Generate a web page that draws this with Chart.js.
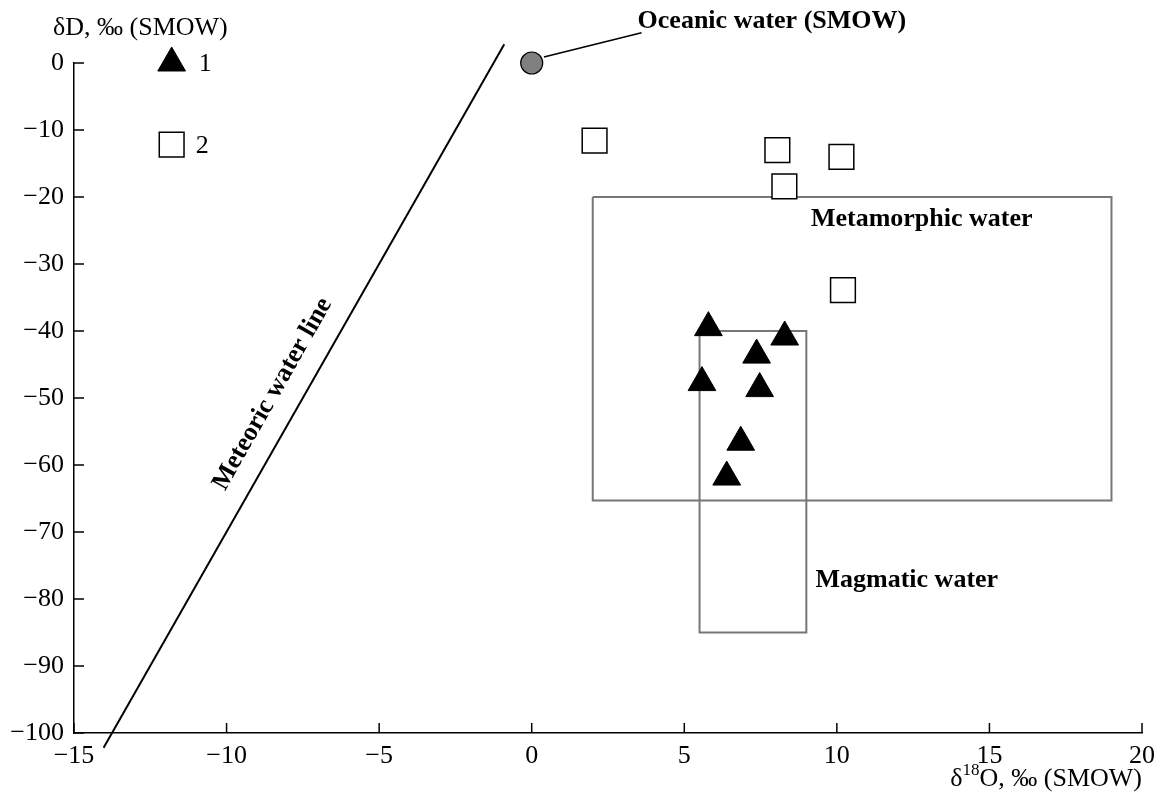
<!DOCTYPE html>
<html><head><meta charset="utf-8">
<script src="https://cdn.jsdelivr.net/npm/chart.js@4/dist/chart.umd.min.js"></script>
<style>html,body{margin:0;padding:0;background:#fff;}#wrap{width:1161px;height:792px;}</style>
</head><body><div id="wrap"><canvas id="c" width="1161" height="792"></canvas></div>
<script>
// ---- data ----
const xTickValues = [-15, -10, -5, 0, 5, 10, 15, 20];
const yTickValues = [-100, -90, -80, -70, -60, -50, -40, -30, -20, -10, 0];
const triX = [5.79, 8.29, 7.37, 5.58, 7.47, 6.85, 6.39];
const triY = [-39.5, -40.9, -43.6, -47.7, -48.6, -56.6, -61.8];
const sqX = [2.06, 8.05, 8.28, 10.15, 10.2];
const sqY = [-11.6, -13.0, -18.4, -14.0, -33.9];
const oceanX = [0];
const oceanY = [0];
const meteoricX = [-14.03, -0.9];
const meteoricY = [-102.2, 2.8];
const metaX = [2, 19, 19, 2, 2];
const metaY = [-20, -20, -65.3, -65.3, -20];
const magX = [5.5, 9, 9, 5.5, 5.5];
const magY = [-40, -40, -85, -85, -40];
const leaderX = [0.4, 3.6];
const leaderY = [0.9, 4.5];
const legendX = [-11.8];
const legendTriY = [0];
const legendSqY = [-12.2];
const legendTexts = ['1', '2'];
const yTitle = 'δD, ‰ (SMOW)';
const xTitleParts = ['δ', '18', 'O, ‰ (SMOW)'];
const labelTexts = ['Oceanic water (SMOW)', 'Metamorphic water', 'Magmatic water', 'Meteoric water line'];
const labelX = [3.47, 9.15, 9.3, -8.49];
const labelY = [5.22, -24.4, -78.2, -49.4];

const pts = (xs, ys) => xs.map((x, i) => ({x, y: ys[i]}));
const SERIF = '"Liberation Serif","Times New Roman",serif';
const minus = v => String(v).replace('-', '\u2212');

const overlay = {
  id: 'overlay',
  afterDraw(chart) {
    const ctx = chart.ctx, xs = chart.scales.x, ys = chart.scales.y;
    const a = chart.chartArea;
    ctx.save();
    ctx.strokeStyle = '#000'; ctx.lineWidth = 1.5;
    // inward ticks
    yTickValues.forEach(v => { const p = ys.getPixelForValue(v); ctx.beginPath(); ctx.moveTo(a.left, p); ctx.lineTo(a.left + 10, p); ctx.stroke(); });
    xTickValues.forEach(v => { const p = xs.getPixelForValue(v); ctx.beginPath(); ctx.moveTo(p, a.bottom); ctx.lineTo(p, a.bottom - 10); ctx.stroke(); });
    ctx.fillStyle = '#000';
    // y title
    ctx.font = '26px ' + SERIF; ctx.textAlign = 'left'; ctx.textBaseline = 'alphabetic';
    ctx.fillText(yTitle, 53, 35);
    // x title with superscript
    const big = '26px ' + SERIF, small = '17px ' + SERIF;
    ctx.font = big; const w0 = ctx.measureText(xTitleParts[0]).width, w2 = ctx.measureText(xTitleParts[2]).width;
    ctx.font = small; const w1 = ctx.measureText(xTitleParts[1]).width;
    let x0 = a.right - (w0 + w1 + w2), base = 786;
    ctx.font = big; ctx.fillText(xTitleParts[0], x0, base);
    ctx.font = small; ctx.fillText(xTitleParts[1], x0 + w0, base - 11);
    ctx.font = big; ctx.fillText(xTitleParts[2], x0 + w0 + w1, base);
    // legend texts
    ctx.font = '26px ' + SERIF; ctx.textBaseline = 'middle';
    ctx.fillText(legendTexts[0], xs.getPixelForValue(legendX[0]) + 27, ys.getPixelForValue(legendTriY[0]) + 1);
    ctx.fillText(legendTexts[1], xs.getPixelForValue(legendX[0]) + 24, ys.getPixelForValue(legendSqY[0]) + 1);
    // bold labels
    ctx.font = 'bold 26px ' + SERIF; ctx.textBaseline = 'alphabetic';
    for (let i = 0; i < 3; i++) {
      ctx.fillText(labelTexts[i], xs.getPixelForValue(labelX[i]), ys.getPixelForValue(labelY[i]));
    }
    // rotated meteoric label
    const px1 = xs.getPixelForValue(meteoricX[0]), py1 = ys.getPixelForValue(meteoricY[0]);
    const px2 = xs.getPixelForValue(meteoricX[1]), py2 = ys.getPixelForValue(meteoricY[1]);
    const ang = Math.atan2(py2 - py1, px2 - px1);
    ctx.translate(xs.getPixelForValue(labelX[3]), ys.getPixelForValue(labelY[3]));
    ctx.rotate(ang); ctx.textAlign = 'center'; ctx.textBaseline = 'middle';
    ctx.fillText(labelTexts[3], 0, 0);
    ctx.restore();
  }
};

new Chart(document.getElementById('c'), {
  type: 'scatter',
  data: {
    datasets: [
      {data: pts(legendX, legendTriY), pointStyle: 'triangle', pointRadius: 16, backgroundColor: '#000', borderColor: '#000', borderWidth: 1, clip: false},
      {data: pts(legendX, legendSqY), pointStyle: 'rect', pointRadius: 17.5, backgroundColor: '#fff', borderColor: '#000', borderWidth: 1.5, clip: false},
      {data: pts(triX, triY), pointStyle: 'triangle', pointRadius: 16, backgroundColor: '#000', borderColor: '#000', borderWidth: 1},
      {data: pts(sqX, sqY), pointStyle: 'rect', pointRadius: 17.5, backgroundColor: '#fff', borderColor: '#000', borderWidth: 1.5},
      {data: pts(oceanX, oceanY), pointStyle: 'circle', pointRadius: 11, backgroundColor: '#808080', borderColor: '#000', borderWidth: 1.2, clip: false},
      {data: pts(leaderX, leaderY), showLine: true, pointRadius: 0, borderColor: '#000', borderWidth: 1.5, clip: false},
      {data: pts(meteoricX, meteoricY), showLine: true, pointRadius: 0, borderColor: '#000', borderWidth: 2, clip: false},
      {data: pts(metaX, metaY), showLine: true, pointRadius: 0, borderColor: '#777', borderWidth: 2},
      {data: pts(magX, magY), showLine: true, pointRadius: 0, borderColor: '#777', borderWidth: 2}
    ]
  },
  options: {
    responsive: false, animation: false, events: [], devicePixelRatio: 1,
    layout: {padding: {left: 0, top: 63, right: 18, bottom: 0}},
    plugins: {legend: {display: false}, tooltip: {enabled: false}},
    scales: {
      x: {type: 'linear', min: -15, max: 20,
        afterFit: s => { s.height = 59; s.paddingLeft = 0; s.paddingRight = 0; },
        afterBuildTicks: s => { s.ticks = xTickValues.map(v => ({value: v})); },
        ticks: {color: '#000', padding: 8, font: {family: SERIF, size: 26}, callback: v => minus(v), maxRotation: 0},
        grid: {display: false, drawTicks: false},
        border: {display: true, color: '#000', width: 1.5}},
      y: {type: 'linear', min: -100, max: 0,
        afterFit: s => { s.width = 74; s.paddingTop = 0; s.paddingBottom = 0; },
        afterBuildTicks: s => { s.ticks = yTickValues.map(v => ({value: v})); },
        ticks: {color: '#000', padding: 10, font: {family: SERIF, size: 26}, callback: v => minus(v)},
        grid: {display: false, drawTicks: false},
        border: {display: true, color: '#000', width: 1.5}}
    }
  },
  plugins: [overlay]
});
</script></body></html>
